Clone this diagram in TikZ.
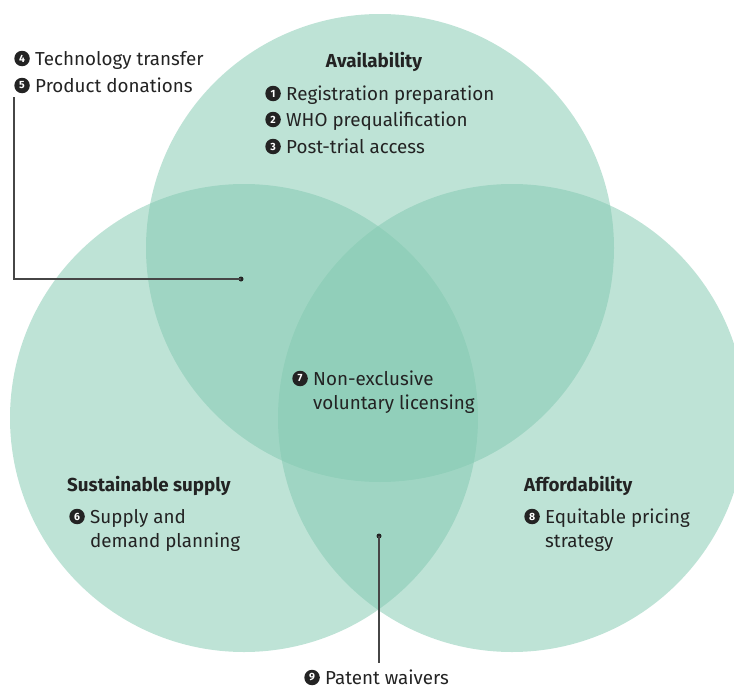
\documentclass[tikz,border=0pt]{standalone}
\usepackage{fontspec}
\setmainfont{Fira Sans}
\usetikzlibrary{positioning}
\definecolor{venn}{RGB}{131,201,177}
\definecolor{ink}{RGB}{35,35,35}
\definecolor{leader}{RGB}{70,70,70}

\begin{document}
\begin{tikzpicture}[x=1pt, y=-1pt,
  zone/.style={fill=venn, fill opacity=0.52},
  item/.style={anchor=base west, inner sep=0pt, text height=13pt, text depth=0pt, text=ink, font=\fontsize{18.8}{22}\selectfont},
  head/.style={anchor=base, inner sep=0pt, text=ink, font=\fontseries{sb}\selectfont\fontsize{18.8}{22}\selectfont},
  badge/.style={circle, fill=ink, text=white, inner sep=0pt, minimum size=15.5pt, font=\bfseries\fontsize{10.5}{10.5}\selectfont},
  lead/.style={draw=leader, line width=1.4pt},
  dot/.style={circle, fill=ink, inner sep=0pt, minimum size=5pt}
]
\useasboundingbox (0,0) rectangle (734,688);

% the three circles
\fill[zone] (380,248) circle (234);
\fill[zone] (244,418) circle (234);
\fill[zone] (512,418) circle (234);

% availability
\node[head] (avail) at (374,67) {Availability};
\node[item] (reg) at (286,100) {Registration preparation};
\node[item] (who) at (286,126) {WHO prequalification};
\node[item] (post) at (286,153) {Post-trial access};
\node[badge, left=5pt of reg] {1};
\node[badge, left=5pt of who] {2};
\node[badge, left=5pt of post] {3};

% outside, top left
\node[item] (tech) at (35,65) {Technology transfer};
\node[item] (don) at (35,92) {Product donations};
\node[badge, left=5pt of tech] {4};
\node[badge, left=5pt of don] {5};

% centre
\node[item] (lic) at (313,385) {Non-exclusive};
\node[item] (lic2) at (313,409) {voluntary licensing};
\node[badge, left=5pt of lic] {7};

% sustainable supply
\node[head, anchor=base west] (supply) at (67,491) {Sustainable supply};
\node[item] (plan) at (90,523) {Supply and};
\node[item] (plan2) at (90,547) {demand planning};
\node[badge, left=5pt of plan] {6};

% affordability
\node[head, anchor=base west] (afford) at (524,491) {Affordability};
\node[item] (price) at (545,523) {Equitable pricing};
\node[item] (price2) at (545,547) {strategy};
\node[badge, left=5pt of price] {8};

% patent waivers
\node[item] (waiver) at (325,684) {Patent waivers};
\node[badge, left=5pt of waiver] {9};

% leader lines
\node[dot] (dotA) at (241,279) {};
\node[dot] (dotB) at (379,536) {};
\coordinate (donTail) at (14,97);
\coordinate (waiverTail) at (379,663);
\draw[lead] (dotA.center) -| (donTail);
\draw[lead] (dotB.center) -- (waiverTail);
\end{tikzpicture}
\end{document}
